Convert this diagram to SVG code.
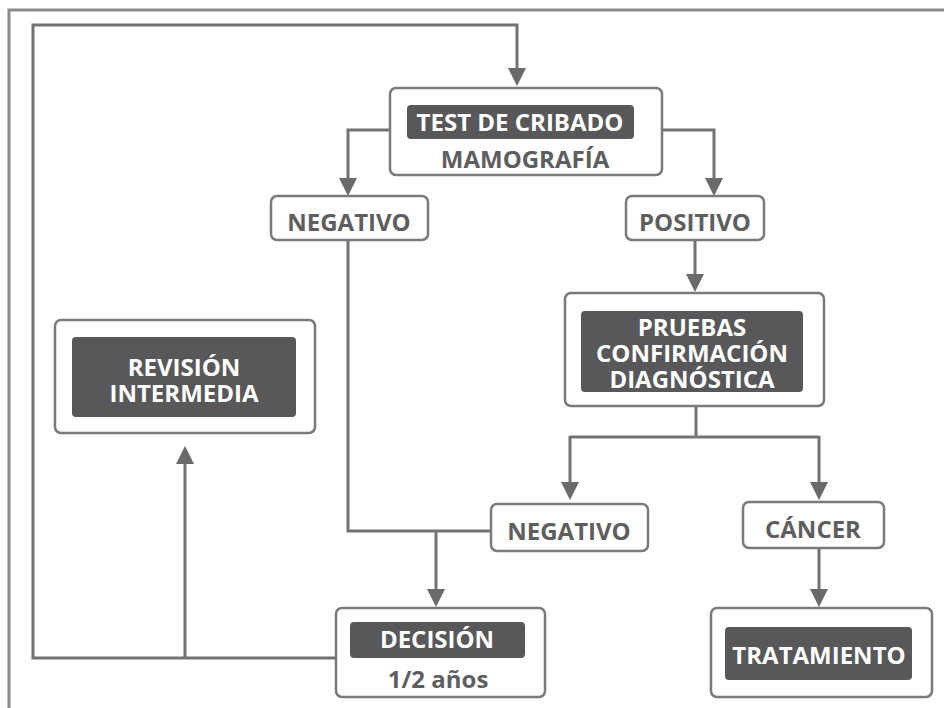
<svg xmlns="http://www.w3.org/2000/svg" width="944" height="708" viewBox="0 0 944 708">
  <defs>
    <style>
      .frame { fill: none; stroke: #8a8a8a; stroke-width: 3; }
      .box { fill: #ffffff; stroke: #7a7a7a; stroke-width: 2.5; }
      .dark { fill: #58585a; stroke: none; }
      .wire { fill: none; stroke: #727272; stroke-width: 3; }
      .arr { fill: #6a6a6a; }
      .t { font-family: "Open Sans", "Noto Sans", "Liberation Sans", sans-serif; font-weight: bold; text-anchor: middle; font-size: 24px; }
      .w { fill: #ffffff; }
      .g { fill: #5e5e60; }
    </style>
  </defs>

  <rect width="944" height="708" fill="#ffffff"/>
  <!-- outer frame -->
  <path class="frame" d="M9,708 V10 H944"/>

  <!-- connectors -->
  <g id="connectors">
    <!-- return loop from decision back to screening -->
    <path class="wire" d="M336,658 H33 V25 H517 V70"/>
    <path class="arr" d="M508,68 L526,68 L517,86 z"/>
    <!-- decision to intermediate review -->
    <path class="wire" d="M185,658 V462"/>
    <path class="arr" d="M176,464 L194,464 L185,446 z"/>
    <!-- screening to negative / positive -->
    <path class="wire" d="M390,130 H348 V180"/>
    <path class="arr" d="M339,178 L357,178 L348,196 z"/>
    <path class="wire" d="M662,130 H714 V180"/>
    <path class="arr" d="M705,178 L723,178 L714,196 z"/>
    <!-- positive to confirmation tests -->
    <path class="wire" d="M695,240 V276"/>
    <path class="arr" d="M686,274 L704,274 L695,292 z"/>
    <!-- confirmation split -->
    <path class="wire" d="M696,406 V437 M570,437 H819 M570,436 V484 M819,436 V484"/>
    <path class="arr" d="M561,482 L579,482 L570,500 z"/>
    <path class="arr" d="M810,482 L828,482 L819,500 z"/>
    <!-- negative results merge to decision -->
    <path class="wire" d="M348,240 V531 H491"/>
    <path class="wire" d="M436,531 V591"/>
    <path class="arr" d="M427,589 L445,589 L436,607 z"/>
    <!-- cancer to treatment -->
    <path class="wire" d="M819,548 V591"/>
    <path class="arr" d="M810,589 L828,589 L819,607 z"/>
  </g>

  <g id="test-cribado">
    <rect class="box" x="390" y="88" width="272" height="87" rx="6"/>
    <rect class="dark" x="407" y="105" width="227" height="34" rx="4"/>
    <text class="t w" x="520" y="131">TEST DE CRIBADO</text>
    <text class="t g" x="525" y="168">MAMOGRAFÍA</text>
  </g>

  <g id="negativo-1">
    <rect class="box" x="271" y="196" width="157" height="44" rx="6"/>
    <text class="t g" x="349" y="231">NEGATIVO</text>
  </g>

  <g id="positivo">
    <rect class="box" x="626" y="196" width="138" height="44" rx="6"/>
    <text class="t g" x="695" y="231">POSITIVO</text>
  </g>

  <g id="pruebas">
    <rect class="box" x="565" y="293" width="259" height="113" rx="6"/>
    <rect class="dark" x="581" y="311" width="222" height="81" rx="4"/>
    <text class="t w" x="692" y="336">PRUEBAS</text>
    <text class="t w" x="692" y="362">CONFIRMACIÓN</text>
    <text class="t w" x="692" y="388">DIAGNÓSTICA</text>
  </g>

  <g id="revision">
    <rect class="box" x="55" y="320" width="260" height="113" rx="6"/>
    <rect class="dark" x="72" y="337" width="224" height="80" rx="4"/>
    <text class="t w" x="184" y="376">REVISIÓN</text>
    <text class="t w" x="184" y="402">INTERMEDIA</text>
  </g>

  <g id="negativo-2">
    <rect class="box" x="491" y="504" width="157" height="47" rx="6"/>
    <text class="t g" x="569" y="540">NEGATIVO</text>
  </g>

  <g id="cancer">
    <rect class="box" x="743" y="502" width="141" height="46" rx="6"/>
    <text class="t g" x="813" y="538">CÁNCER</text>
  </g>

  <g id="decision">
    <rect class="box" x="336" y="608" width="209" height="89" rx="6"/>
    <rect class="dark" x="350" y="622" width="175" height="36" rx="4"/>
    <text class="t w" x="437" y="648">DECISIÓN</text>
    <text class="t g" x="438" y="688">1/2 años</text>
  </g>

  <g id="tratamiento">
    <rect class="box" x="711" y="608" width="221" height="89" rx="6"/>
    <rect class="dark" x="725" y="627" width="187" height="53" rx="4"/>
    <text class="t w" x="819" y="664">TRATAMIENTO</text>
  </g>
</svg>
